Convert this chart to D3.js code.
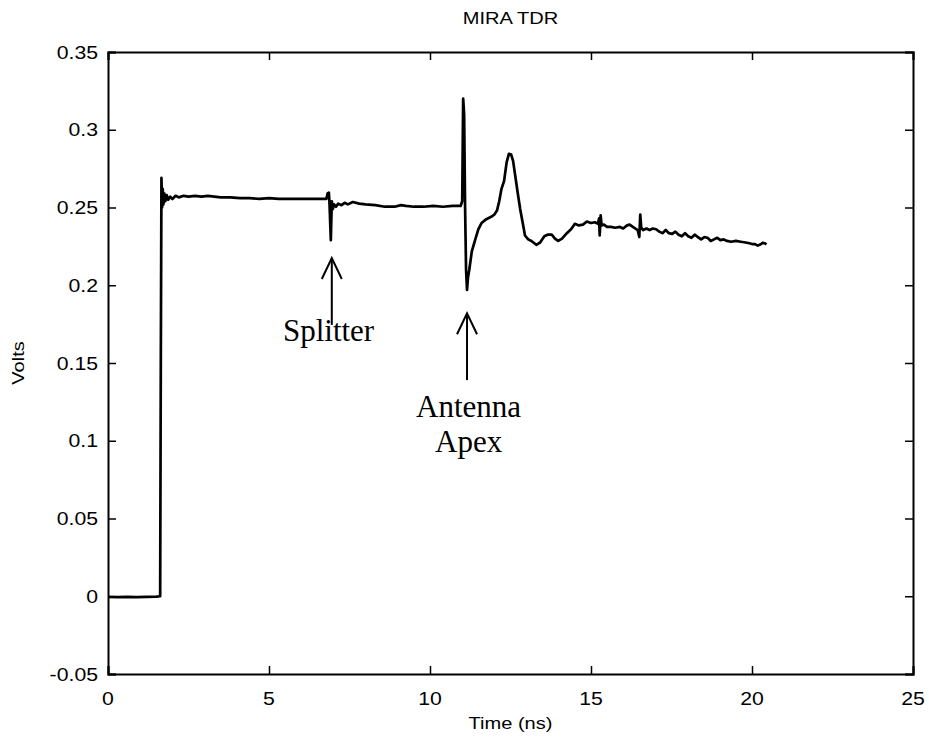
<!DOCTYPE html>
<html>
<head>
<meta charset="utf-8">
<script src="https://cdn.jsdelivr.net/npm/d3@7"></script>
<style>
  html, body { margin: 0; padding: 0; background: #fff; }
  svg { display: block; }
  .tick-label { font-family: "Liberation Sans", Arial, sans-serif; font-size: 18px; fill: #000; }
  .axis-title { font-family: "Liberation Sans", Arial, sans-serif; font-size: 17px; fill: #000; }
  .note { font-family: "Liberation Serif", "Times New Roman", serif; font-size: 31px; fill: #000; }
</style>
</head>
<body>
<svg id="chart" width="929" height="740"></svg>
<script>
// Time-domain reflectometry trace: time in ns, response in volts
const timeNs = [
  0, 0.3, 0.6, 0.9, 1.2, 1.5, 1.62, 1.64, 1.66, 1.68, 1.70, 1.72, 1.75, 1.78, 1.82, 1.87, 1.93,
  2.0, 2.1, 2.2, 2.35, 2.5, 2.7, 2.9, 3.1, 3.3, 3.5, 3.8, 4.1, 4.4, 4.7, 5.0, 5.3, 5.6, 6.0,
  6.4, 6.7, 6.78, 6.82, 6.86, 6.88, 6.92, 6.95, 6.98, 7.02, 7.08, 7.15, 7.25, 7.35, 7.45, 7.6,
  7.8, 8.0, 8.3, 8.6, 8.9, 9.1, 9.25, 9.5, 9.8, 10.1, 10.4, 10.7, 10.95, 11.0, 11.03, 11.06,
  11.09, 11.12, 11.15, 11.18, 11.22, 11.3, 11.4, 11.5, 11.6, 11.75, 11.9, 12.0, 12.08, 12.15,
  12.22, 12.3, 12.38, 12.45, 12.52, 12.58, 12.65, 12.72, 12.8, 12.88, 12.95, 13.05, 13.15,
  13.3, 13.42, 13.55, 13.65, 13.78, 13.88, 13.98, 14.1, 14.25, 14.38, 14.5, 14.62, 14.75,
  14.87, 15.0, 15.12, 15.22, 15.25, 15.27, 15.3, 15.33, 15.4, 15.5, 15.62, 15.75, 15.9, 16.0,
  16.12, 16.2, 16.3, 16.45, 16.5, 16.53, 16.56, 16.62, 16.72, 16.82, 16.92, 17.02, 17.12,
  17.22, 17.32, 17.42, 17.52, 17.62, 17.72, 17.82, 17.92, 18.02, 18.12, 18.22, 18.32, 18.42,
  18.52, 18.62, 18.72, 18.82, 18.92, 19.02, 19.12, 19.22, 19.35, 19.5, 19.65, 19.8, 19.92,
  20.0, 20.08, 20.18, 20.26, 20.33, 20.4, 20.45
];
const volts = [
  -0.0004, -0.0005, -0.0004, -0.0005, -0.0004, -0.0002, 0.000, 0.150, 0.269, 0.250, 0.262, 0.252, 0.259, 0.254, 0.258, 0.255, 0.257,
  0.2555, 0.2575, 0.2565, 0.2575, 0.257, 0.2575, 0.257, 0.2575, 0.257, 0.2565, 0.2565, 0.256, 0.256, 0.2555, 0.256, 0.2555, 0.2555, 0.2555,
  0.2555, 0.2555, 0.2555, 0.259, 0.2595, 0.252, 0.229, 0.254, 0.249, 0.252, 0.2505, 0.2525, 0.2515, 0.253, 0.252, 0.2535,
  0.2525, 0.252, 0.2515, 0.2505, 0.2505, 0.2515, 0.251, 0.2505, 0.2505, 0.251, 0.2505, 0.251, 0.251, 0.254, 0.320, 0.310,
  0.250, 0.210, 0.197, 0.205, 0.210, 0.222, 0.229, 0.236, 0.240, 0.2425, 0.244, 0.2455, 0.248, 0.254,
  0.262, 0.267, 0.279, 0.2845, 0.284, 0.280, 0.270, 0.260, 0.249, 0.240, 0.232, 0.2295, 0.2285,
  0.226, 0.2275, 0.2315, 0.2325, 0.2325, 0.230, 0.2285, 0.230, 0.2335, 0.236, 0.2395, 0.2385, 0.239,
  0.241, 0.240, 0.2405, 0.2395, 0.243, 0.232, 0.245, 0.2385, 0.239, 0.2375, 0.2375, 0.237, 0.2375, 0.2365,
  0.2385, 0.239, 0.2375, 0.2355, 0.231, 0.2455, 0.237, 0.2355, 0.2365, 0.2355, 0.2365, 0.236, 0.2345,
  0.2335, 0.2355, 0.2335, 0.233, 0.2345, 0.2325, 0.2315, 0.2335, 0.2315, 0.2305, 0.2325, 0.231, 0.2295,
  0.231, 0.2305, 0.2285, 0.2295, 0.2305, 0.229, 0.2295, 0.2285, 0.228, 0.2285, 0.228, 0.2275, 0.227,
  0.2265, 0.2265, 0.2255, 0.2262, 0.2272, 0.227, 0.2262
];

const xTicks = [0, 5, 10, 15, 20, 25];
const xTickLabels = ["0", "5", "10", "15", "20", "25"];
const yTicks = [-0.05, 0, 0.05, 0.1, 0.15, 0.2, 0.25, 0.3, 0.35];
const yTickLabels = ["-0.05", "0", "0.05", "0.1", "0.15", "0.2", "0.25", "0.3", "0.35"];

// Annotations: label lines, arrow x (ns), arrow tip / tail (V)
const noteLabels = [["Splitter"], ["Antenna", "Apex"]];
const noteArrowX = [6.95, 11.15];
const noteArrowTip = [0.2175, 0.182];
const noteArrowTail = [0.1745, 0.139];
const noteTextX = [6.85, 11.2];
const noteTextY = [0.164, 0.115];

const svg = d3.select("#chart");
const plot = { left: 108, right: 913, top: 52, bottom: 674 };

const x = d3.scaleLinear().domain([0, 25]).range([plot.left, plot.right]);
const y = d3.scaleLinear().domain([-0.05, 0.35]).range([plot.bottom, plot.top]);

const tickLen = 8;
const hStretch = 1.18;

// Inward ticks on all four sides
const axes = svg.append("g").attr("stroke", "#000").attr("stroke-width", 1.5);
axes.append("g").call(d3.axisBottom(x).tickValues(xTicks).tickSize(-tickLen).tickFormat(""))
  .attr("transform", `translate(0,${plot.bottom})`);
axes.append("g").call(d3.axisTop(x).tickValues(xTicks).tickSize(-tickLen).tickFormat(""))
  .attr("transform", `translate(0,${plot.top})`);
axes.append("g").call(d3.axisLeft(y).tickValues(yTicks).tickSize(-tickLen).tickFormat(""))
  .attr("transform", `translate(${plot.left},0)`);
axes.append("g").call(d3.axisRight(y).tickValues(yTicks).tickSize(-tickLen).tickFormat(""))
  .attr("transform", `translate(${plot.right},0)`);
axes.selectAll(".domain").attr("stroke", "#000").attr("stroke-width", 2);
axes.selectAll(".tick line").attr("stroke", "#000").attr("stroke-width", 1.5);

// Tick labels (wide sans face)
svg.append("g").selectAll("text").data(xTicks).join("text")
  .attr("class", "tick-label")
  .attr("text-anchor", "middle")
  .attr("transform", (d) => `translate(${x(d)},${plot.bottom + 31}) scale(${hStretch},1)`)
  .text((d, i) => xTickLabels[i]);

svg.append("g").selectAll("text").data(yTicks).join("text")
  .attr("class", "tick-label")
  .attr("text-anchor", "end")
  .attr("transform", (d) => `translate(${plot.left - 10},${y(d) + 6.5}) scale(${hStretch},1)`)
  .text((d, i) => yTickLabels[i]);

// Trace
const line = d3.line().x((d, i) => x(timeNs[i])).y((d) => y(d));
svg.append("path")
  .datum(volts)
  .attr("fill", "none")
  .attr("stroke", "#000")
  .attr("stroke-width", 2.7)
  .attr("stroke-linejoin", "round")
  .attr("d", line);

// Titles
svg.append("text").attr("class", "axis-title").attr("text-anchor", "middle")
  .attr("transform", `translate(${(plot.left + plot.right) / 2},24) scale(${hStretch},1)`)
  .text("MIRA TDR");
svg.append("text").attr("class", "axis-title").attr("text-anchor", "middle")
  .attr("transform", `translate(${(plot.left + plot.right) / 2},729) scale(${hStretch},1)`)
  .text("Time (ns)");
svg.append("text").attr("class", "axis-title").attr("text-anchor", "middle")
  .attr("transform", `translate(24,${(plot.top + plot.bottom) / 2}) rotate(-90) scale(${hStretch},1)`)
  .text("Volts");

// Annotation arrows and labels
const notes = svg.append("g");
noteArrowX.forEach((t, i) => {
  const ax = x(t), tipY = y(noteArrowTip[i]), tailY = y(noteArrowTail[i]);
  notes.append("line").attr("x1", ax).attr("x2", ax).attr("y1", tipY).attr("y2", tailY)
    .attr("stroke", "#000").attr("stroke-width", 2);
  notes.append("path")
    .attr("d", `M${ax - 10},${tipY + 21} L${ax},${tipY} L${ax + 10},${tipY + 21}`)
    .attr("fill", "none").attr("stroke", "#000").attr("stroke-width", 2);
  noteLabels[i].forEach((s, k) => {
    notes.append("text").attr("class", "note").attr("text-anchor", "middle")
      .attr("x", x(noteTextX[i])).attr("y", y(noteTextY[i]) + k * 35)
      .text(s);
  });
});
</script>
</body>
</html>
